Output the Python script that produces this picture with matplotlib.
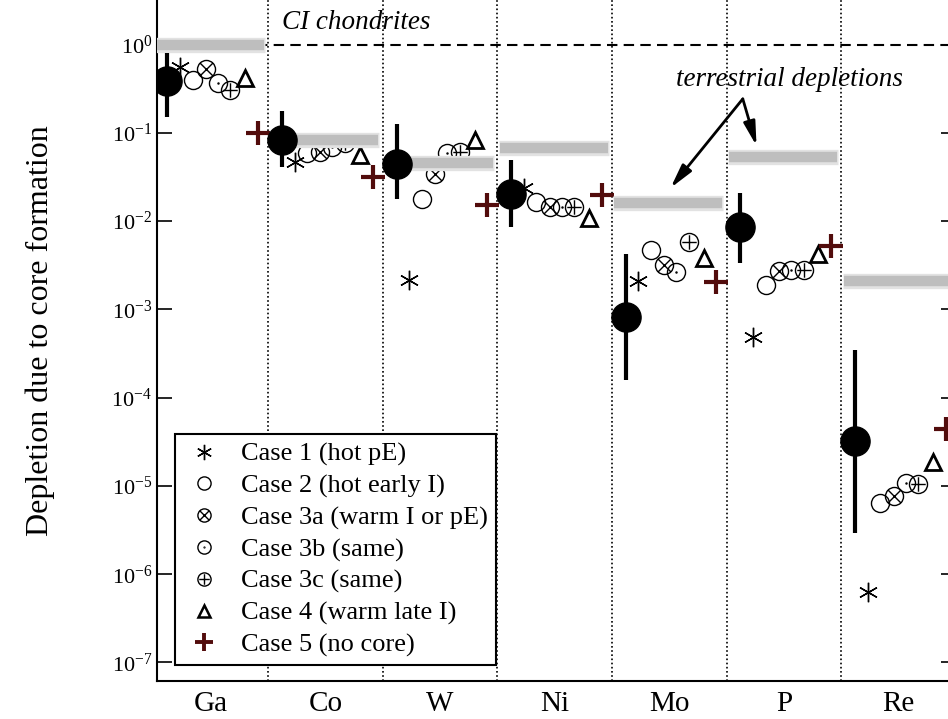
import numpy as np
import matplotlib
matplotlib.use("Agg")
import matplotlib.pyplot as plt
from matplotlib.path import Path
from matplotlib.lines import Line2D

plt.rcParams.update({
    'font.family': 'Liberation Serif',
    'mathtext.fontset': 'custom',
    'mathtext.rm': 'Liberation Serif',
    'mathtext.it': 'Liberation Serif:italic',
    'font.size': 16,
})

# ---- data ----
elements = ['Ga', 'Co', 'W', 'Ni', 'Mo', 'P', 'Re']

terrestrial = [1.0, 0.083, 0.046, 0.068, 0.0161, 0.0535, 0.0021]
mean_val = [0.388, 0.083, 0.045, 0.0204, 0.00083, 0.0086, 3.25e-5]
err_hi = [0.805, 0.177, 0.126, 0.049, 0.0043, 0.021, 3.5e-4]
err_lo = [0.152, 0.041, 0.018, 0.0086, 0.000159, 0.0034, 2.95e-6]

case1 = [0.56, 0.047, 0.00216, 0.0238, 0.0021, 0.00049, 6.3e-7]
case2 = [0.40, 0.059, 0.018, 0.0166, 0.0047, 0.0019, 6.4e-6]
case3a = [0.53, 0.061, 0.034, 0.0145, 0.0032, 0.00274, 7.6e-6]
case3b = [0.37, 0.069, 0.059, 0.0145, 0.00267, 0.0028, 1.09e-5]
case3c = [0.31, 0.077, 0.061, 0.0145, 0.00583, 0.0028, 1.04e-5]
case4 = [0.42, 0.056, 0.083, 0.0109, 0.00385, 0.0042, 1.88e-5]
case5 = [0.10, 0.032, 0.0153, 0.0199, 0.00206, 0.0052, 4.45e-5]

case_labels = ['Case 1 (hot pE)', 'Case 2 (hot early I)', 'Case 3a (warm I or pE)',
               'Case 3b (same)', 'Case 3c (same)', 'Case 4 (warm late I)', 'Case 5 (no core)']

# ---- custom circle markers ----
circ = Path.unit_circle()
d = 0.7071
m_otimes = Path.make_compound_path(
    circ, Path([(-d, -d), (d, d), (-d, d), (d, -d)],
               [Path.MOVETO, Path.LINETO, Path.MOVETO, Path.LINETO]))
m_oplus = Path.make_compound_path(
    circ, Path([(-0.8, 0), (0.8, 0), (0, -0.8), (0, 0.8)],
               [Path.MOVETO, Path.LINETO, Path.MOVETO, Path.LINETO]))
m_odot = Path.make_compound_path(circ, Path(circ.vertices * 0.06, circ.codes))

plus_color = '#520c0c'

fig = plt.figure(figsize=(9.48, 7.19), dpi=100)
ax = fig.add_axes([157 / 948, 38 / 719, 799 / 948, 681 / 719])
ax.set_yscale('log')
ax.set_xlim(0.03, 7.0)
ax.set_ylim(10 ** -7.21, 10 ** 0.506)

x = np.arange(len(elements))

# separators and CI line
for k in range(1, len(elements)):
    ax.axvline(k, color='black', lw=1.2, ls=(0, (1, 1.5)), zorder=1)
ax.axhline(1.0, color='black', lw=1.5, ls=(0, (5, 3)), zorder=1)

# open model markers
ms_open = 13
ax.plot(x + 0.23, case1, ls='none', marker=(6, 2, 0), ms=14, mec='black', mew=1, zorder=2)
ax.plot(x + 0.34, case2, ls='none', marker='o', ms=ms_open, mfc='none', mec='black', mew=1, zorder=2)
ax.plot(x + 0.455, case3a, ls='none', marker=m_otimes, ms=ms_open, mfc='none', mec='black', mew=1, zorder=2)
ax.plot(x + 0.56, case3b, ls='none', marker=m_odot, ms=ms_open, mfc='none', mec='black', mew=1, zorder=2)
ax.plot(x + 0.67, case3c, ls='none', marker=m_oplus, ms=ms_open, mfc='none', mec='black', mew=1, zorder=2)
ax.plot(x + 0.80, case4, ls='none', marker='^', ms=11, mfc='none', mec='black', mew=2, zorder=2)
ax.plot(x + 0.91, case5, ls='none', marker='+', ms=17, mec=plus_color, mew=3, zorder=2)

# terrestrial depletion bars
ax.hlines(terrestrial, x + 0.01, x + 0.97, color='#e2e2e2', lw=11, zorder=3)
ax.hlines(terrestrial, x + 0.02, x + 0.96, color='#bebebe', lw=7.5, zorder=3)

# mean with error range
ax.vlines(x + 0.12, err_lo, err_hi, color='black', lw=3, zorder=4)
ax.plot(x + 0.12, mean_val, ls='none', marker='o', ms=21, color='black', zorder=5)

# annotations
ax.text(1.12, 1.8, 'CI chondrites', fontsize=19.5, style='italic', va='center', ha='left')
ax.text(5.55, 0.40, 'terrestrial depletions', fontsize=19.5, style='italic',
        va='center', ha='center')
arrow = dict(arrowstyle='-|>,head_length=0.9,head_width=0.22', color='black', lw=2,
             shrinkA=0, shrinkB=0)
ax.annotate('', xy=(4.51, 0.0238), xytext=(5.14, 0.243), arrowprops=arrow)
ax.annotate('', xy=(5.26, 0.0713), xytext=(5.14, 0.243), arrowprops=arrow)

# axes styling
ax.set_xticks(x + 0.5)
ax.set_xticklabels(elements)
ax.tick_params(axis='x', length=0, pad=7, labelsize=21)
ax.set_yticks([10.0 ** -k for k in range(8)])
ax.minorticks_off()
ax.tick_params(axis='y', which='major', direction='in', length=11, width=1.2,
               left=True, right=True, labelsize=16)
ax.spines['top'].set_visible(False)
for s in ['left', 'bottom', 'right']:
    ax.spines[s].set_linewidth(1.5)
ax.set_ylabel('Depletion due to core formation', fontsize=23)
ax.yaxis.set_label_coords(-0.128, 0.515)

# legend
handles = [
    Line2D([], [], ls='none', marker=(6, 2, 0), ms=11, mec='black', mew=1),
    Line2D([], [], ls='none', marker='o', ms=9.5, mfc='none', mec='black', mew=1),
    Line2D([], [], ls='none', marker=m_otimes, ms=9.5, mfc='none', mec='black', mew=1),
    Line2D([], [], ls='none', marker=m_odot, ms=9.5, mfc='none', mec='black', mew=1),
    Line2D([], [], ls='none', marker=m_oplus, ms=9.5, mfc='none', mec='black', mew=1),
    Line2D([], [], ls='none', marker='^', ms=9, mfc='none', mec='black', mew=1.8),
    Line2D([], [], ls='none', marker='+', ms=13, mec=plus_color, mew=2.8),
]
leg = ax.legend(handles, case_labels, loc='lower left', bbox_to_anchor=(0.0225, 0.0235),
                borderaxespad=0, fontsize=19, frameon=True, fancybox=False,
                framealpha=1, edgecolor='black', labelspacing=0.3,
                handletextpad=0.6, borderpad=0.3, handlelength=1.6)
leg.get_frame().set_linewidth(1.5)
leg.set_zorder(10)

fig.savefig('out.png', dpi=100)
